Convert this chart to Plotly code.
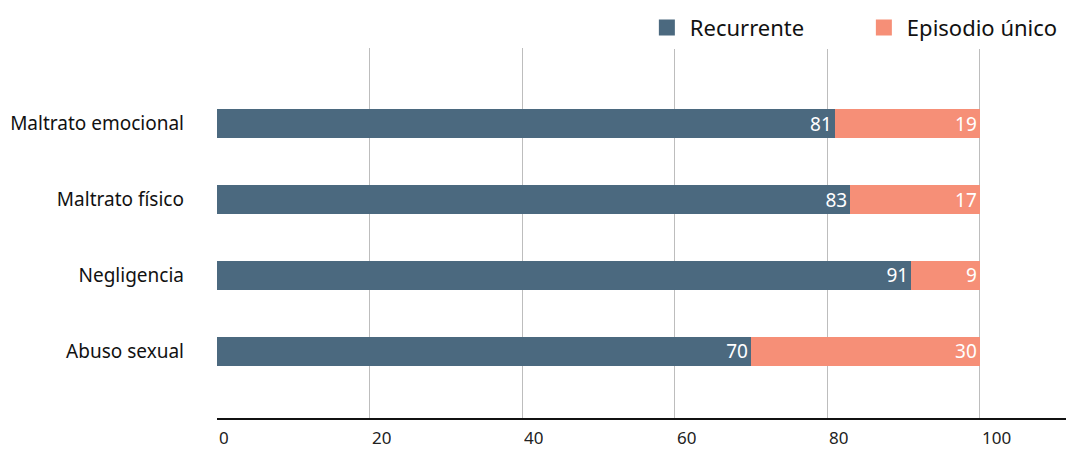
import plotly.graph_objects as go

# datos (de abajo hacia arriba)
categorias = ["Abuso sexual", "Negligencia", "Maltrato físico", "Maltrato emocional"]
recurrente = [70, 91, 83, 81]
episodio_unico = [30, 9, 17, 19]
ticks_x = [0, 20, 40, 60, 80, 100]

color_rec = "#4b697f"
color_epi = "#f68f77"
fuente = "Noto Sans"

fig = go.Figure()

for valores, nombre, color in [(recurrente, "Recurrente", color_rec),
                               (episodio_unico, "Episodio único", color_epi)]:
    fig.add_trace(go.Bar(
        y=categorias, x=valores, orientation="h", name=nombre,
        marker=dict(color=color, line=dict(width=0)),
        text=valores, textposition="inside", insidetextanchor="end",
        textangle=0, constraintext="none",
        textfont=dict(color="white", size=19, family=fuente),
        width=0.38, showlegend=False,
    ))

# entradas de leyenda con cuadrados grandes
for nombre, color in [("Recurrente", color_rec), ("Episodio único", color_epi)]:
    fig.add_trace(go.Scatter(
        x=[None], y=[None], mode="markers", name=nombre,
        marker=dict(symbol="square", size=20, color=color),
    ))

# etiquetas del eje x alineadas a la izquierda
for t in ticks_x:
    fig.add_annotation(
        x=t, y=0, xref="x", yref="paper", yanchor="middle", xanchor="left",
        yshift=-19, height=16, valign="middle", text=str(t), showarrow=False,
        font=dict(size=17, color="#222", family=fuente),
    )

fig.update_layout(
    barmode="stack",
    width=1066, height=450,
    margin=dict(l=217, r=0, t=48, b=32, autoexpand=False),
    paper_bgcolor="white", plot_bgcolor="white",
    font=dict(family=fuente, size=19, color="#111"),
    legend=dict(
        orientation="h", xref="container", yref="container",
        x=0.604, xanchor="left", y=0.985, yanchor="top",
        font=dict(size=22, family=fuente, color="#111"),
        itemsizing="trace", traceorder="normal",
        itemwidth=36, entrywidth=166, entrywidthmode="pixels",
    ),
    xaxis=dict(
        range=[0, 111.3], tickvals=ticks_x, showticklabels=False,
        showgrid=True, gridcolor="#bdbdbd", gridwidth=1,
        showline=True, linecolor="#111", linewidth=2,
        zeroline=False, fixedrange=True, automargin=False,
    ),
    yaxis=dict(
        range=[-0.88, 4.0], showgrid=False, zeroline=False, fixedrange=True,
        ticks="", ticklabelstandoff=32, automargin=False,
        tickfont=dict(size=19, color="#111", family=fuente),
    ),
)

fig.write_html("out.html", config={"displayModeBar": False},
               post_script="document.body.style.margin='0';")
